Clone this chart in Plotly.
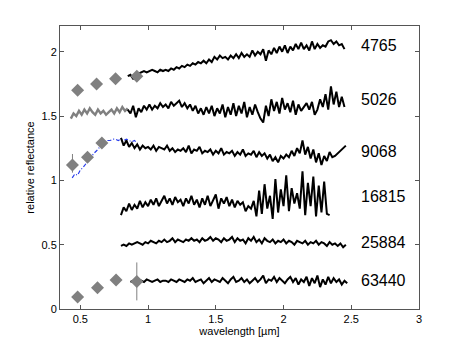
import numpy as np
import plotly.graph_objects as go

# 光谱数据 (relative reflectance, 0.02 um 间隔)
spec_4765 = [1.81, 1.82, 1.79, 1.80, 1.83, 1.84, 1.85, 1.84, 1.85, 1.86,
             1.85, 1.84, 1.86, 1.85, 1.86, 1.85, 1.87, 1.86, 1.88, 1.87,
             1.89, 1.88, 1.90, 1.89, 1.91, 1.90, 1.92, 1.91, 1.93, 1.91,
             1.94, 1.92, 1.96, 1.94, 1.97, 1.95, 1.96, 1.94, 1.97, 1.95,
             1.98, 1.95, 1.99, 1.96, 1.98, 1.96, 2.01, 1.97, 2.00, 1.98,
             2.02, 1.93, 2.01, 1.98, 2.03, 1.99, 2.04, 2.00, 2.05, 1.99,
             2.04, 2.01, 2.06, 2.02, 2.07, 2.02, 2.05, 2.01, 2.08, 2.02,
             2.06, 2.03, 2.05, 2.04, 2.08, 2.09, 2.06, 2.08, 2.05, 2.06,
             2.02]
spec_5026_vis = [1.48, 1.52, 1.50, 1.54, 1.51, 1.55, 1.52, 1.56, 1.53, 1.51, 1.55,
                 1.52, 1.54, 1.51, 1.53, 1.55, 1.52, 1.56, 1.53, 1.57, 1.54, 1.56]
spec_5026 = [1.55, 1.52, 1.58, 1.49, 1.56, 1.53, 1.58, 1.55, 1.59, 1.55,
             1.58, 1.56, 1.60, 1.57, 1.59, 1.56, 1.61, 1.58, 1.60, 1.62,
             1.57, 1.60, 1.56, 1.59, 1.54, 1.58, 1.52, 1.56, 1.51, 1.57,
             1.52, 1.58, 1.50, 1.56, 1.52, 1.59, 1.49, 1.57, 1.51, 1.60,
             1.50, 1.58, 1.52, 1.61, 1.49, 1.57, 1.51, 1.59, 1.53, 1.48,
             1.45, 1.58, 1.50, 1.63, 1.54, 1.61, 1.52, 1.64, 1.55, 1.60,
             1.53, 1.62, 1.51, 1.59, 1.54, 1.57, 1.60, 1.55, 1.61, 1.51,
             1.55, 1.63, 1.57, 1.67, 1.55, 1.73, 1.59, 1.69, 1.57, 1.65,
             1.57]
spec_9068_vis = [1.02, 1.05, 1.04, 1.08, 1.10, 1.13, 1.15, 1.18, 1.21, 1.23, 1.26, 1.28, 1.30,
                 1.31, 1.31, 1.32, 1.32, 1.31, 1.32, 1.31, 1.32, 1.31, 1.30, 1.31, 1.29]
spec_9068 = [1.33, 1.27, 1.31, 1.26, 1.29, 1.25, 1.28, 1.24, 1.27, 1.25,
             1.26, 1.24, 1.27, 1.23, 1.26, 1.25, 1.24, 1.27, 1.23, 1.25,
             1.22, 1.24, 1.23, 1.25, 1.22, 1.27, 1.21, 1.24, 1.23, 1.26,
             1.21, 1.23, 1.22, 1.24, 1.20, 1.23, 1.21, 1.25, 1.20, 1.22,
             1.21, 1.23, 1.19, 1.22, 1.20, 1.24, 1.19, 1.21, 1.20, 1.23,
             1.18, 1.22, 1.19, 1.21, 1.17, 1.20, 1.15, 1.18, 1.14, 1.19,
             1.17, 1.20, 1.18, 1.23, 1.19, 1.25, 1.21, 1.31, 1.20, 1.26,
             1.17, 1.24, 1.14, 1.21, 1.12, 1.19, 1.15, 1.22, 1.18, 1.19,
             1.27]
spec_16815 = [0.73, 0.79, 0.76, 0.82, 0.77, 0.81, 0.78, 0.84, 0.79, 0.83,
              0.80, 0.85, 0.81, 0.86, 0.80, 0.84, 0.88, 0.82, 0.86, 0.81,
              0.87, 0.83, 0.85, 0.80, 0.86, 0.82, 0.88, 0.81, 0.85, 0.79,
              0.86, 0.81, 0.88, 0.80, 0.84, 0.89, 0.78, 0.86, 0.82, 0.87,
              0.80, 0.85, 0.79, 0.84, 0.81, 0.83, 0.76, 0.80, 0.78, 0.84,
              0.72, 0.92, 0.74, 0.97, 0.78, 0.88, 0.70, 1.01, 0.75, 0.93,
              0.80, 1.04, 0.76, 0.94, 0.82, 0.90, 0.78, 1.07, 0.73, 0.98,
              0.80, 1.03, 0.72, 0.96, 0.75, 0.99, 0.74, 0.73]
spec_25884 = [0.49, 0.50, 0.49, 0.51, 0.50, 0.51, 0.52, 0.51, 0.50, 0.52,
              0.51, 0.53, 0.52, 0.51, 0.53, 0.52, 0.54, 0.52, 0.53, 0.55,
              0.52, 0.54, 0.53, 0.52, 0.54, 0.53, 0.55, 0.53, 0.54, 0.52,
              0.55, 0.53, 0.54, 0.56, 0.53, 0.55, 0.54, 0.52, 0.55, 0.53,
              0.54, 0.56, 0.52, 0.55, 0.53, 0.54, 0.51, 0.55, 0.53, 0.56,
              0.52, 0.54, 0.51, 0.55, 0.53, 0.52, 0.54, 0.51, 0.53, 0.52,
              0.54, 0.51, 0.53, 0.52, 0.50, 0.53, 0.52, 0.51, 0.53, 0.50,
              0.52, 0.51, 0.53, 0.50, 0.52, 0.51, 0.49, 0.52, 0.50, 0.51,
              0.49, 0.51, 0.48, 0.50]
spec_63440 = [0.21, 0.22, 0.20, 0.23, 0.22, 0.21, 0.23, 0.22, 0.21, 0.22,
              0.23, 0.21, 0.22, 0.22, 0.21, 0.23, 0.22, 0.21, 0.23, 0.22,
              0.21, 0.23, 0.22, 0.24, 0.21, 0.22, 0.23, 0.20, 0.22, 0.24,
              0.21, 0.23, 0.22, 0.21, 0.24, 0.22, 0.20, 0.23, 0.25, 0.21,
              0.22, 0.24, 0.21, 0.23, 0.20, 0.22, 0.24, 0.21, 0.23, 0.26,
              0.20, 0.23, 0.22, 0.25, 0.21, 0.24, 0.22, 0.20, 0.23, 0.25,
              0.21, 0.24, 0.19, 0.23, 0.21, 0.25, 0.18, 0.24, 0.20, 0.26,
              0.17, 0.23, 0.19, 0.25, 0.20, 0.24, 0.21, 0.23, 0.19, 0.22,
              0.20]

# 测光点 (diamonds)
phot_4765_x = [0.48, 0.62, 0.76, 0.917]
phot_4765_y = [1.70, 1.75, 1.79, 1.81]
phot_9068_x = [0.442, 0.553, 0.659]
phot_9068_y = [1.12, 1.18, 1.29]
phot_9068_err_plus = [0.085, 0, 0]
phot_9068_err_minus = [0.06, 0, 0]
phot_63440_x = [0.48, 0.627, 0.764, 0.917]
phot_63440_y = [0.093, 0.165, 0.225, 0.214]
phot_63440_err_plus = [0, 0, 0, 0.148]
phot_63440_err_minus = [0, 0, 0, 0.147]

labels = ['4765', '5026', '9068', '16815', '25884', '63440']
label_y = [2.05, 1.625, 1.224, 0.874, 0.52, 0.222]


def wl(start, stop, values):
    return np.linspace(start, stop, len(values))


fig = go.Figure()

black = dict(color='black', width=2)
grey = '#808080'

fig.add_trace(go.Scatter(x=wl(0.43, 0.85, spec_5026_vis), y=spec_5026_vis, mode='lines',
                         line=dict(color=grey, width=2.4)))
fig.add_trace(go.Scatter(x=wl(0.44, 0.92, spec_9068_vis), y=spec_9068_vis, mode='lines',
                         line=dict(color='rgb(40,60,235)', width=1.2, dash='4px,2px,1px,2px')))

fig.add_trace(go.Scatter(x=wl(0.85, 2.45, spec_4765), y=spec_4765, mode='lines', line=black))
fig.add_trace(go.Scatter(x=wl(0.85, 2.45, spec_5026), y=spec_5026, mode='lines', line=black))
x9068 = np.append(np.linspace(0.80, 2.38, len(spec_9068) - 1), 2.46)
fig.add_trace(go.Scatter(x=x9068, y=spec_9068, mode='lines', line=black))
fig.add_trace(go.Scatter(x=wl(0.80, 2.34, spec_16815), y=spec_16815, mode='lines', line=black))
fig.add_trace(go.Scatter(x=wl(0.80, 2.46, spec_25884), y=spec_25884, mode='lines', line=black))
fig.add_trace(go.Scatter(x=wl(0.87, 2.47, spec_63440), y=spec_63440, mode='lines', line=black))

diamond = dict(symbol='diamond', size=10, color=grey)
err_style = dict(type='data', symmetric=False, color=grey, thickness=1, width=0)
fig.add_trace(go.Scatter(x=phot_4765_x, y=phot_4765_y, mode='markers', marker=diamond))
fig.add_trace(go.Scatter(x=phot_9068_x, y=phot_9068_y, mode='markers', marker=diamond,
                         error_y=dict(array=phot_9068_err_plus, arrayminus=phot_9068_err_minus, **err_style)))
fig.add_trace(go.Scatter(x=phot_63440_x, y=phot_63440_y, mode='markers', marker=diamond,
                         error_y=dict(array=phot_63440_err_plus, arrayminus=phot_63440_err_minus, **err_style)))

for lab, ly in zip(labels, label_y):
    fig.add_annotation(x=2.555, y=ly, text=lab, showarrow=False, xanchor='left', yanchor='middle',
                       font=dict(size=16, color='black'))

axis_style = dict(showgrid=False, zeroline=False, showline=True, linecolor='#555555', linewidth=1,
                  mirror='ticks', ticks='inside', ticklen=4, tickcolor='#555555',
                  tickfont=dict(size=11, color='black'))

# 页面 body 有 8px 的默认边距, 所以画布缩小一点
fig.update_layout(
    width=455, height=340,
    margin=dict(l=52, r=44, t=18, b=39),
    paper_bgcolor='white', plot_bgcolor='white',
    showlegend=False,
    font=dict(family='Liberation Sans, Arial, sans-serif', color='black'),
    xaxis=dict(range=[0.35, 3], tickvals=[0.5, 1, 1.5, 2, 2.5, 3],
               ticktext=['0.5', '1', '1.5', '2', '2.5', '3'],
               title=dict(text='wavelength [µm]', font=dict(size=11), standoff=2), **axis_style),
    yaxis=dict(range=[0, 2.2], tickvals=[0, 0.5, 1, 1.5, 2], ticktext=['0', '0.5', '1', '1.5', '2'],
               title=dict(text='relative reflectance', font=dict(size=11), standoff=4), **axis_style),
)

fig.write_html("out.html")
